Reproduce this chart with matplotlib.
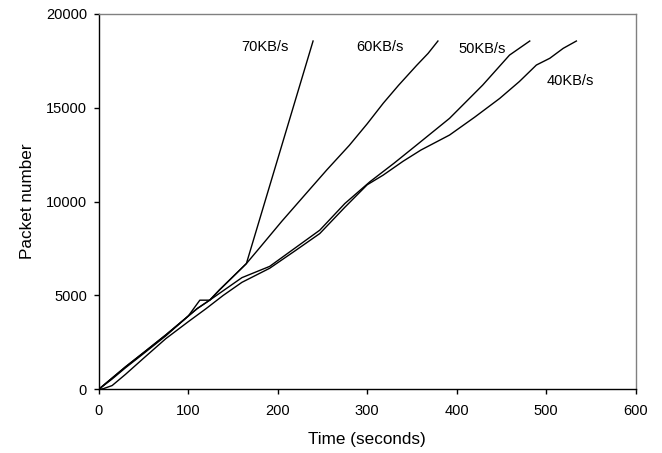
import matplotlib
matplotlib.use("Agg")
import matplotlib.pyplot as plt

plt.rcParams['font.family'] = ['Liberation Sans', 'DejaVu Sans']

# 70KB/s
t70 = [0, 15, 30, 50, 75, 95, 110, 124, 135, 150, 165, 239.5]
n70 = [0, 600, 1200, 1950, 2900, 3700, 4300, 4750, 5300, 6000, 6700, 18560]

# 60KB/s
t60 = [0, 15, 30, 50, 75, 95, 110, 124, 135, 150, 165, 180, 204.5, 232, 255, 280, 300, 318, 335, 355, 368, 379]
n60 = [0, 600, 1200, 1950, 2900, 3700, 4300, 4750, 5300, 6000, 6700, 7550, 8950, 10450, 11700, 13000, 14150, 15250, 16200, 17250, 17900, 18560]

# 50KB/s
t50 = [0, 15, 30, 50, 75, 100, 113, 124, 139, 160, 191, 220, 247, 275, 303, 330, 355, 392, 429, 459, 481.6]
n50 = [0, 550, 1150, 1900, 2850, 3900, 4750, 4750, 5250, 5950, 6550, 7550, 8480, 9900, 11060, 12050, 13010, 14440, 16210, 17810, 18560]

# 40KB/s
t40 = [0, 5, 15, 30, 50, 75, 100, 120, 139, 160, 191, 220, 247, 275, 300, 317.7, 340, 360, 392, 420, 448, 470, 489, 504, 519, 533.7]
n40 = [0, 30, 200, 800, 1650, 2700, 3600, 4300, 5000, 5700, 6450, 7400, 8300, 9700, 10900, 11410, 12150, 12750, 13550, 14500, 15500, 16400, 17280, 17640, 18170, 18560]

labels = ["70KB/s", "60KB/s", "50KB/s", "40KB/s"]
label_t = [186, 314, 428, 527]
label_n = [18260, 18220, 18150, 16450]

xticks = [0, 100, 200, 300, 400, 500, 600]
yticks = [0, 5000, 10000, 15000, 20000]

fig = plt.figure(figsize=(6.62, 4.53), dpi=100)
ax = fig.add_axes([0.1491, 0.1406, 0.9603 - 0.1491, 0.9691 - 0.1406])

for t, n in [(t70, n70), (t60, n60), (t50, n50), (t40, n40)]:
    ax.plot(t, n, color='black', linewidth=1.0)

for lab, x, y in zip(labels, label_t, label_n):
    ax.text(x, y, lab, ha='center', va='center', fontsize=10.5)

ax.set_xlim(0, 600)
ax.set_ylim(0, 20000)
ax.set_xticks(xticks)
ax.set_yticks(yticks)
ax.tick_params(axis='both', direction='out', length=3.5, width=1, labelsize=10.5, color='black')
ax.tick_params(axis='x', pad=7)
ax.tick_params(axis='y', pad=5)

for s in ['left', 'bottom']:
    ax.spines[s].set_color('black')
    ax.spines[s].set_linewidth(1.0)
for s in ['top', 'right']:
    ax.spines[s].set_color('#808080')
    ax.spines[s].set_linewidth(1.0)

ax.set_xlabel("Time (seconds)", fontsize=12.3, labelpad=10)
ax.set_ylabel("Packet number", fontsize=12.3, labelpad=8)

fig.savefig("out.png", dpi=100)
